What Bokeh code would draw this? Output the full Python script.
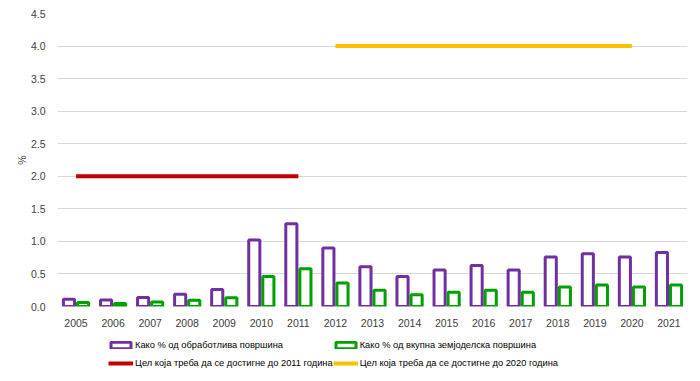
from bokeh.plotting import figure
from bokeh.models import ColumnDataSource, FixedTicker, Legend, LegendItem, NumeralTickFormatter, Range1d, BoxAnnotation
from bokeh.layouts import column
from bokeh.transform import dodge
from bokeh.embed import file_html
from bokeh.resources import INLINE

years = [2005, 2006, 2007, 2008, 2009, 2010, 2011, 2012, 2013, 2014, 2015, 2016, 2017, 2018, 2019, 2020, 2021]
arable = [0.11, 0.10, 0.14, 0.19, 0.26, 1.02, 1.27, 0.90, 0.61, 0.46, 0.56, 0.63, 0.56, 0.76, 0.81, 0.76, 0.83]
agri = [0.06, 0.045, 0.07, 0.095, 0.135, 0.46, 0.58, 0.36, 0.25, 0.18, 0.22, 0.25, 0.22, 0.30, 0.33, 0.30, 0.33]
target2011_years = [2005, 2011]
target2011 = [2.0, 2.0]
target2020_years = [2012, 2020]
target2020 = [4.0, 4.0]
y_ticks = [0.0, 0.5, 1.0, 1.5, 2.0, 2.5, 3.0, 3.5, 4.0, 4.5]
labels = ["Како % од обработлива површина", "Како % од вкупна земјоделска површина",
          "Цел која треба да се достигне до 2011 година", "Цел која треба да се достигне до 2020 година"]

FONT = "Liberation Sans"
TXT = "#404040"
PURPLE, GREEN, RED, YELLOW = "#7030A0", "#00A000", "#C00000", "#FFC000"

src = ColumnDataSource(dict(year=years, arable=arable, agri=agri))

p = figure(width=690, height=331, output_backend="svg", toolbar_location=None,
           x_range=(2004.5, 2021.5), y_range=(0, 4.5),
           min_border_left=57, min_border_right=3, min_border_top=13, min_border_bottom=25)
p.outline_line_color = None
p.background_fill_color = "white"

p.vbar(x=dodge("year", -0.19, range=p.x_range), top="arable", width=0.30, source=src,
       fill_color="white", line_color=PURPLE, line_width=3)
p.vbar(x=dodge("year", 0.19, range=p.x_range), top="agri", width=0.30, source=src,
       fill_color="white", line_color=GREEN, line_width=3)
p.line(target2011_years, target2011, line_color=RED, line_width=4)
p.line(target2020_years, target2020, line_color=YELLOW, line_width=4)

p.xaxis.ticker = FixedTicker(ticks=years)
p.yaxis.ticker = FixedTicker(ticks=y_ticks)
p.yaxis.formatter = NumeralTickFormatter(format="0.0")
p.xgrid.grid_line_color = None
p.ygrid.grid_line_color = "#D9D9D9"
p.ygrid.ticker = FixedTicker(ticks=y_ticks)
for ax in (p.xaxis, p.yaxis):
    ax.axis_line_color = None
    ax.major_tick_line_color = None
    ax.minor_tick_line_color = None
    ax.major_label_text_font = FONT
    ax.major_label_text_font_size = "10.5px"
    ax.major_label_text_color = TXT
p.xaxis.major_label_standoff = 6
p.yaxis.major_label_standoff = 6
p.yaxis.axis_label = "%"
p.yaxis.axis_label_text_font = FONT
p.yaxis.axis_label_text_font_size = "10.5px"
p.yaxis.axis_label_text_font_style = "normal"
p.yaxis.axis_label_text_color = TXT
p.yaxis.axis_label_standoff = 0

# legend strip below the chart: key renderers are covered by an opaque white box,
# and the legend is drawn on top of that box
lsrc = ColumnDataSource(dict(year=years, arable=arable, agri=agri))
lf = figure(width=690, height=48, output_backend="svg", toolbar_location=None,
            x_range=Range1d(2004.5, 2021.5), y_range=Range1d(0, 4.5),
            min_border_left=0, min_border_right=0, min_border_top=0, min_border_bottom=0)
lf.axis.visible = False
lf.grid.visible = False
lf.outline_line_color = None
k1 = lf.vbar(x="year", top="arable", width=0.3, source=lsrc, fill_color="white", line_color=PURPLE, line_width=3)
k2 = lf.vbar(x="year", top="agri", width=0.3, source=lsrc, fill_color="white", line_color=GREEN, line_width=3)
k3 = lf.line(x=target2011_years, y=target2011, line_color=RED, line_width=4)
k4 = lf.line(x=target2020_years, y=target2020, line_color=YELLOW, line_width=4)
lf.add_layout(BoxAnnotation(fill_color="white", fill_alpha=1.0, line_color=None))

# vertical orientation fills column-first: order items so rows read k1 k2 / k3 k4
legend = Legend(items=[LegendItem(label=labels[0], renderers=[k1]),
                       LegendItem(label=labels[2], renderers=[k3]),
                       LegendItem(label=labels[1], renderers=[k2]),
                       LegendItem(label=labels[3], renderers=[k4])],
                orientation="vertical", nrows=2,
                location=(51, 7), margin=0, padding=4, spacing=0,
                glyph_width=25, glyph_height=8, label_height=18, label_standoff=2,
                label_text_font=FONT, label_text_font_size="9.3px", label_text_color="#000000",
                border_line_color=None, background_fill_alpha=0)
lf.add_layout(legend, "center")

layout = column(p, lf, spacing=0)
open("out.html", "w").write(file_html(layout, INLINE))
